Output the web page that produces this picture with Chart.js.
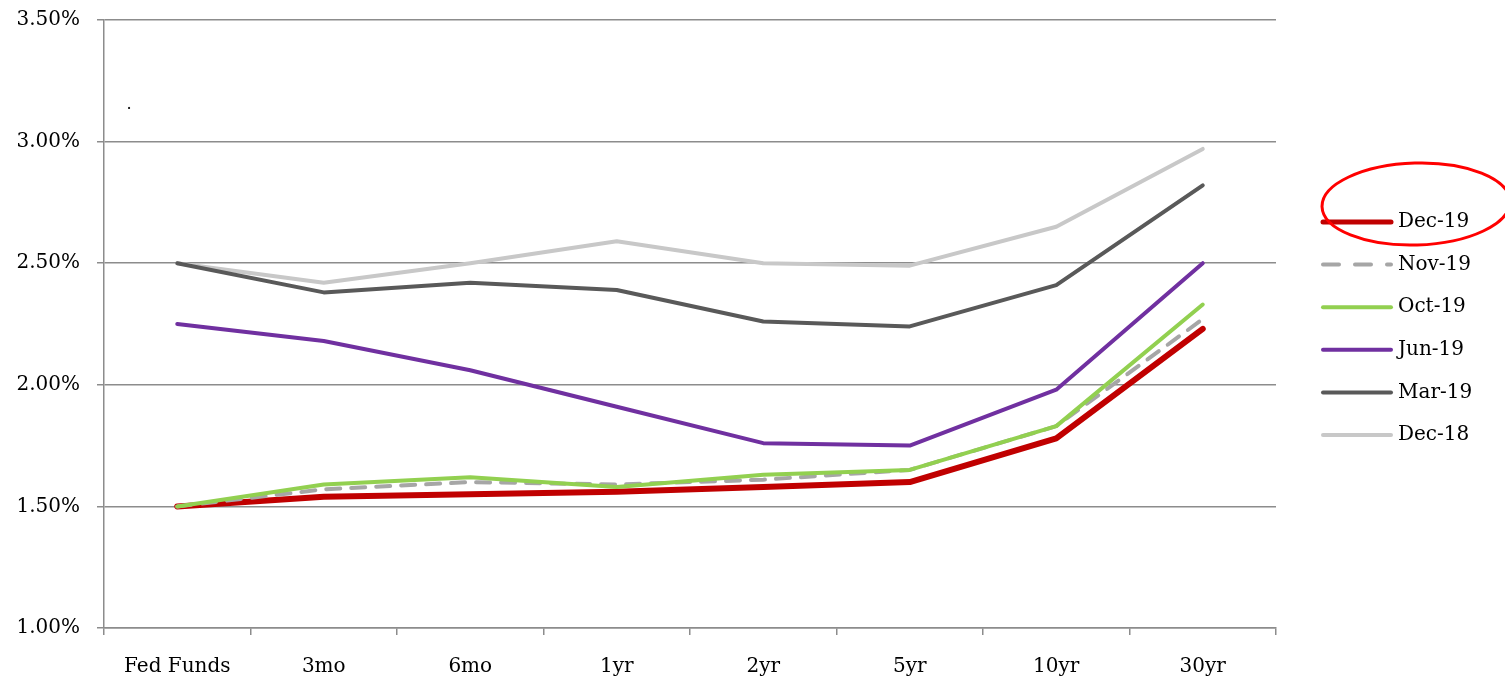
<!DOCTYPE html>
<html>
<head>
<meta charset="utf-8">
<script src="https://cdn.jsdelivr.net/npm/chart.js@4"></script>
<style>
html,body{margin:0;padding:0;background:#fff;}
#wrap{width:1505px;height:679px;position:relative;}
</style>
</head>
<body>
<div id="wrap"><canvas id="c" width="1505" height="679"></canvas></div>
<script>
const categories = ["Fed Funds","3mo","6mo","1yr","2yr","5yr","10yr","30yr"];
const seriesLabels = ["Dec-19","Nov-19","Oct-19","Jun-19","Mar-19","Dec-18"];
const dec19 = [1.50,1.54,1.55,1.56,1.58,1.60,1.78,2.23];
const nov19 = [1.50,1.57,1.60,1.59,1.61,1.65,1.83,2.27];
const oct19 = [1.50,1.59,1.62,1.58,1.63,1.65,1.83,2.33];
const jun19 = [2.25,2.18,2.06,1.91,1.76,1.75,1.98,2.50];
const mar19 = [2.50,2.38,2.42,2.39,2.26,2.24,2.41,2.82];
const dec18 = [2.50,2.42,2.50,2.59,2.50,2.49,2.65,2.97];
const yTicks = [1.00,1.50,2.00,2.50,3.00,3.50];

const FONT = "'DejaVu Serif', serif";
const GRID = '#8c8c8c';

const styles = [
  {color:'#c00000', width:6, dash:[], order:2},
  {color:'#a6a6a6', width:4, dash:[14,11], order:1},
  {color:'#92d050', width:4, dash:[], order:0},
  {color:'#7030a0', width:4, dash:[], order:3},
  {color:'#595959', width:4, dash:[], order:4},
  {color:'#c8c8c8', width:4, dash:[], order:5}
];
const values = [dec19,nov19,oct19,jun19,mar19,dec18];

const datasets = seriesLabels.map((lab,i)=>({
  label: lab,
  data: values[i],
  borderColor: styles[i].color,
  backgroundColor: styles[i].color,
  borderWidth: styles[i].width,
  borderDash: styles[i].dash,
  borderCapStyle: 'round',
  borderJoinStyle: 'round',
  pointRadius: 0,
  pointHoverRadius: 0,
  tension: 0,
  fill: false,
  order: styles[i].order
}));

const legendPlugin = {
  id: 'customLegend',
  afterDraw(chart){
    const ctx = chart.ctx;
    ctx.save();
    chart.data.datasets.forEach((ds,i)=>{
      const y = 222 + i*42.6;
      ctx.beginPath();
      ctx.strokeStyle = ds.borderColor;
      ctx.lineWidth = i===0 ? 5 : 4;
      ctx.lineCap = 'round';
      ctx.setLineDash(ds.borderDash && ds.borderDash.length ? [16,16] : []);
      ctx.moveTo(1323, y);
      ctx.lineTo(1391, y);
      ctx.stroke();
      ctx.setLineDash([]);
      ctx.fillStyle = '#000';
      ctx.font = "20px " + FONT;
      ctx.textBaseline = 'middle';
      ctx.textAlign = 'left';
      ctx.fillText(ds.label, 1398, y);
    });
    ctx.beginPath();
    ctx.strokeStyle = '#ff0000';
    ctx.lineWidth = 3;
    ctx.ellipse(1416, 204, 94, 41, -0.03, 0, Math.PI*2);
    ctx.stroke();
    ctx.fillStyle = '#000';
    ctx.font = "16px " + FONT;
    ctx.textAlign = 'center';
    ctx.textBaseline = 'alphabetic';
    ctx.fillText('.', 129, 109);
    ctx.restore();
  }
};

new Chart(document.getElementById('c'), {
  type: 'line',
  data: { labels: categories, datasets },
  plugins: [legendPlugin],
  options: {
    responsive: false,
    animation: false,
    devicePixelRatio: 1,
    layout: { padding: { top: 20, right: 229, left: 0, bottom: 0 } },
    plugins: { legend: { display: false }, tooltip: { enabled: false } },
    scales: {
      x: {
        offset: true,
        grid: { display: true, drawOnChartArea: false, drawTicks: true, tickLength: 7, color: GRID, lineWidth: 1.5, offset: true },
        border: { display: true, color: GRID, width: 1.5 },
        ticks: { color: '#000', font: { family: FONT, size: 20 }, padding: 20, maxRotation: 0, autoSkip: false },
        afterFit(scale){ scale.height = 51; scale.paddingLeft = 0; scale.paddingRight = 0; }
      },
      y: {
        min: 1.0, max: 3.5,
        afterBuildTicks(scale){ scale.ticks = yTicks.map(v=>({value:v})); },
        grid: { color: GRID, lineWidth: 1.5, drawTicks: true, tickLength: 7 },
        border: { display: true, color: GRID, width: 1.5 },
        ticks: { color: '#000', font: { family: FONT, size: 20 }, padding: 17,
          callback: v => Number(v).toFixed(2) + '%' },
        afterFit(scale){ scale.width = 104; scale.paddingTop = 0; scale.paddingBottom = 0; }
      }
    }
  }
});
</script>
</body>
</html>
